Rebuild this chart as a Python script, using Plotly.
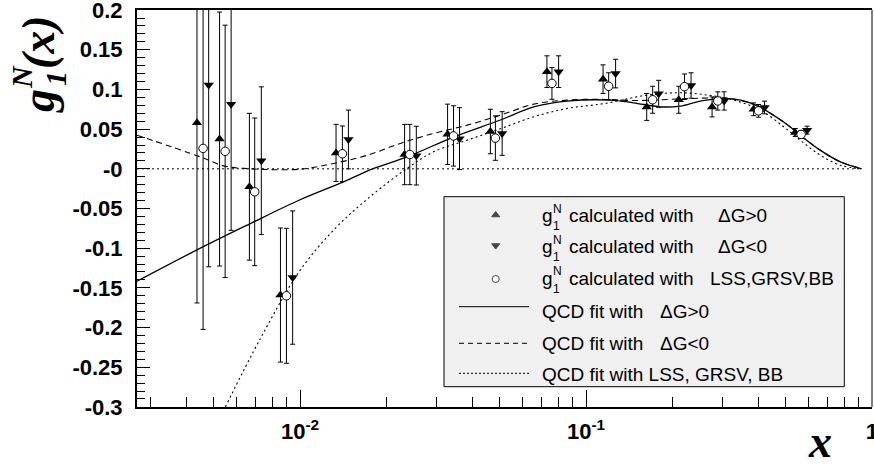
import numpy as np
import plotly.graph_objects as go

# ---------------- data ----------------
# g1^N calculated with DeltaG>0  (up triangles)
x_pos = [0.00436, 0.00523, 0.00665, 0.00854, 0.01336, 0.0232, 0.0328, 0.0463,
         0.073, 0.1147, 0.163, 0.211, 0.276, 0.3855, 0.539]
g1_pos = [0.058, 0.0375, -0.0226, -0.159, 0.020, 0.018, 0.0435, 0.047,
          0.1224, 0.113, 0.078, 0.087, 0.078, 0.075, 0.0458]
err_pos = [0.227, 0.160, 0.0925, 0.0845, 0.036, 0.038, 0.038, 0.028,
           0.020, 0.018, 0.017, 0.017, 0.0126, 0.008, 0.005]

# g1^N calculated with DeltaG<0  (down triangles)
x_neg = [0.00479, 0.00574, 0.00732, 0.00942, 0.01476, 0.0255, 0.0361, 0.0509,
         0.0802, 0.1269, 0.1795, 0.233, 0.304, 0.421, 0.593]
g1_neg = [0.1055, 0.0815, 0.0103, -0.137, 0.037, 0.0166, 0.038, 0.0445,
          0.1224, 0.120, 0.0945, 0.105, 0.0855, 0.0773, 0.0487]
err_neg = [0.229, 0.159, 0.093, 0.084, 0.037, 0.037, 0.039, 0.0275,
           0.020, 0.018, 0.017, 0.016, 0.0115, 0.008, 0.005]

# g1^N calculated with LSS, GRSV, BB  (open circles)
x_lss = [0.00458, 0.00547, 0.00694, 0.00896, 0.01406, 0.0242, 0.0344, 0.0482,
         0.076, 0.120, 0.171, 0.221, 0.289, 0.401, 0.565]
g1_lss = [0.0257, 0.022, -0.029, -0.160, 0.019, 0.018, 0.0414, 0.0387,
          0.1076, 0.104, 0.087, 0.1035, 0.0855, 0.073, 0.0433]
err_lss = [0.228, 0.159, 0.093, 0.085, 0.035, 0.038, 0.038, 0.028,
           0.020, 0.017, 0.017, 0.016, 0.0115, 0.008, 0.005]

# QCD fit with DeltaG>0 (solid)
x_fit_pos = [0.00269, 0.00448, 0.0067, 0.01, 0.0142, 0.0181, 0.02366, 0.0344,
             0.0502, 0.0656, 0.0858, 0.1216, 0.1466, 0.182, 0.2138, 0.251,
             0.311, 0.3855, 0.491, 0.5614, 0.659, 0.775, 0.92]
g1_fit_pos = [-0.1416, -0.100, -0.069, -0.039, -0.0164, 0.0005, 0.015, 0.040,
              0.0615, 0.078, 0.0853, 0.0866, 0.0832, 0.0781, 0.079, 0.0853,
              0.0887, 0.0815, 0.059, 0.0424, 0.0235, 0.0088, 0.0]

# QCD fit with DeltaG<0 (dashed)
x_fit_neg = [0.00269, 0.00448, 0.0054, 0.00635, 0.01, 0.0131, 0.01715, 0.0224,
             0.0293, 0.0384, 0.0502, 0.0656, 0.0858, 0.1168, 0.1487, 0.182,
             0.251, 0.311, 0.3855, 0.491, 0.5614, 0.659, 0.775, 0.92]
g1_fit_neg = [0.0424, 0.015, 0.0037, 0.0005, -0.0005, 0.0068, 0.017, 0.032,
              0.0446, 0.055, 0.0676, 0.0815, 0.0866, 0.0874, 0.086, 0.087,
              0.089, 0.089, 0.081, 0.059, 0.0424, 0.0235, 0.0088, 0.0]

# QCD fit with LSS, GRSV, BB (dotted)
x_fit_lss = [0.00548, 0.00726, 0.01, 0.01328, 0.0176, 0.02366, 0.0293, 0.0384,
             0.0502, 0.0656, 0.0858, 0.1168, 0.1634, 0.2138, 0.265, 0.328,
             0.4068, 0.491, 0.5614, 0.659, 0.775, 0.92]
g1_fit_lss = [-0.30, -0.214, -0.128, -0.075, -0.035, 0.0005, 0.0214, 0.0361,
              0.0505, 0.0655, 0.076, 0.0824, 0.0929, 0.0958, 0.093, 0.0866,
              0.074, 0.053, 0.0361, 0.0172, 0.0046, 0.0]

# zero reference line
x_zero = [0.00269, 0.92]
y_zero = [0.0, 0.0]

# axis ticks
x_range = [0.00269, 1.0]
y_range = [-0.3, 0.2]
x_major = [0.01, 0.1, 1.0]
x_major_text = ["<b>10<sup>-2</sup></b>", "<b>10<sup>-1</sup></b>", "<b>1</b>"]
x_minor = [0.003, 0.004, 0.005, 0.006, 0.007, 0.008, 0.009,
           0.02, 0.03, 0.04, 0.05, 0.06, 0.07, 0.08, 0.09,
           0.2, 0.3, 0.4, 0.5, 0.6, 0.7, 0.8, 0.9]
y_major = [0.2, 0.15, 0.1, 0.05, 0.0, -0.05, -0.1, -0.15, -0.2, -0.25, -0.3]
y_major_text = ["0.2", "0.15", "0.1", "0.05", "-0", "-0.05", "-0.1", "-0.15",
                "-0.2", "-0.25", "-0.3"]

# legend text
leg_points = ["calculated with", "calculated with", "calculated with"]
leg_point_tail = ["\u0394G>0", "\u0394G<0", "LSS,GRSV,BB"]
leg_fit_text = ["QCD fit with", "QCD fit with", "QCD fit with LSS, GRSV, BB"]
leg_fit_tail = ["\u0394G>0", "\u0394G<0", ""]

# ---------------- geometry helpers ----------------
W, H = 874, 466
ML, MR, MT, MB = 137, 2, 10, 59
PW, PH = W - ML - MR, H - MT - MB


def PX(px):
    return (px - ML) / PW


def PY(py):
    return (H - MB - py) / PH


SANS = "Liberation Sans"
SERIF = "Liberation Serif"
EPS = 1e-4

fig = go.Figure()

# fits
fig.add_trace(go.Scatter(x=x_zero, y=y_zero, mode="lines",
                         line=dict(color="black", width=1, dash="2px,3px")))
fig.add_trace(go.Scatter(x=x_fit_lss, y=g1_fit_lss, mode="lines", line_shape="spline",
                         line=dict(color="black", width=1.1, dash="2px,3px")))
fig.add_trace(go.Scatter(x=x_fit_neg, y=g1_fit_neg, mode="lines", line_shape="spline",
                         line=dict(color="black", width=1.1, dash="6px,4px")))
fig.add_trace(go.Scatter(x=x_fit_pos, y=g1_fit_pos, mode="lines", line_shape="spline",
                         line=dict(color="black", width=1.3)))

eb = dict(type="data", thickness=1, width=2.5, color="black")
fig.add_trace(go.Scatter(x=x_pos, y=g1_pos, mode="markers",
                         error_y=dict(array=err_pos, **eb),
                         marker=dict(symbol="triangle-up", size=9, color="black")))
fig.add_trace(go.Scatter(x=x_neg, y=g1_neg, mode="markers",
                         error_y=dict(array=err_neg, **eb),
                         marker=dict(symbol="triangle-down", size=9, color="black")))
fig.add_trace(go.Scatter(x=x_lss, y=g1_lss, mode="markers",
                         error_y=dict(array=err_lss, **eb),
                         marker=dict(symbol="circle", size=8.5, color="white",
                                     line=dict(color="black", width=1))))

# legend markers on a pixel-space overlay axis
fig.add_trace(go.Scatter(x=[495.7, 495.7, 495.7], y=[215, 245.5, 279],
                         xaxis="x2", yaxis="y2", mode="markers",
                         marker=dict(symbol=["triangle-up", "triangle-down", "circle"],
                                     size=[7, 7, 7],
                                     color=["black", "black", "white"],
                                     line=dict(color="black", width=1))))

shapes = []
# legend box
shapes.append(dict(type="rect", xref="paper", yref="paper",
                   x0=PX(444), x1=PX(844.3), y0=PY(386.7), y1=PY(196.7),
                   fillcolor="#f0f0f0", line=dict(color="black", width=1),
                   layer="below"))
# legend lines
for yy, dsh in [(306.7, "solid"), (343.3, "5px,4px"), (373.3, "2px,2px")]:
    shapes.append(dict(type="line", xref="paper", yref="paper",
                       x0=PX(459), x1=PX(529), y0=PY(yy), y1=PY(yy),
                       line=dict(color="black", width=1, dash=dsh)))
# right frame
shapes.append(dict(type="line", xref="paper", yref="paper", x0=1, x1=1, y0=0, y1=1,
                   line=dict(color="black", width=1)))

ann = []
lf = dict(family=SANS, size=19, color="black")
sup = dict(family=SANS, size=12, color="black")
rows_pts = [215.5, 246.5, 278]
for i, yy in enumerate(rows_pts):
    ann.append(dict(xref="paper", yref="paper", x=PX(540), y=PY(yy), text="g",
                    showarrow=False, xanchor="left", yanchor="middle", font=lf))
    ann.append(dict(xref="paper", yref="paper", x=PX(557), y=PY(yy - 7), text="N",
                    showarrow=False, xanchor="center", yanchor="middle", font=sup))
    ann.append(dict(xref="paper", yref="paper", x=PX(556), y=PY(yy + 10.5), text="1",
                    showarrow=False, xanchor="center", yanchor="middle", font=sup))
    ann.append(dict(xref="paper", yref="paper", x=PX(566.5), y=PY(yy), text=leg_points[i],
                    showarrow=False, xanchor="left", yanchor="middle", font=lf))
    tail_x = 708 if i == 2 else 715.5
    ann.append(dict(xref="paper", yref="paper", x=PX(tail_x), y=PY(yy), text=leg_point_tail[i],
                    showarrow=False, xanchor="left", yanchor="middle", font=lf))
rows_fit = [311, 343.5, 374]
for i, yy in enumerate(rows_fit):
    ann.append(dict(xref="paper", yref="paper", x=PX(540), y=PY(yy), text=leg_fit_text[i],
                    showarrow=False, xanchor="left", yanchor="middle", font=lf))
    if leg_fit_tail[i]:
        ann.append(dict(xref="paper", yref="paper", x=PX(658), y=PY(yy), text=leg_fit_tail[i],
                        showarrow=False, xanchor="left", yanchor="middle", font=lf))

# axis titles
tf = dict(family=SERIF, size=46, color="black")
sf = dict(family=SERIF, size=30, color="black")
ann.append(dict(xref="paper", yref="paper", x=PX(38.5), y=PY(101.5), text="<b><i>g</i></b>",
                textangle=-90, showarrow=False, xanchor="center", yanchor="middle", font=tf))
ann.append(dict(xref="paper", yref="paper", x=PX(38.5), y=PY(42.5), text="<b><i>(x)</i></b>",
                textangle=-90, showarrow=False, xanchor="center", yanchor="middle", font=tf))
ann.append(dict(xref="paper", yref="paper", x=PX(22), y=PY(77), text="<b><i>N</i></b>",
                textangle=-90, showarrow=False, xanchor="center", yanchor="middle", font=sf))
ann.append(dict(xref="paper", yref="paper", x=PX(55), y=PY(79), text="<b><i>1</i></b>",
                textangle=-90, showarrow=False, xanchor="center", yanchor="middle", font=sf))
ann.append(dict(xref="paper", yref="paper", x=PX(819.5), y=PY(441), text="<b><i>x</i></b>",
                showarrow=False, xanchor="center", yanchor="middle", font=tf))

fig.update_layout(
    width=W, height=H,
    margin=dict(l=ML, r=MR, t=MT, b=MB),
    paper_bgcolor="white", plot_bgcolor="white",
    showlegend=False,
    shapes=shapes, annotations=ann,
    xaxis=dict(type="log", range=[np.log10(x_range[0]), np.log10(x_range[1]) + EPS],
               showline=True, linecolor="black", linewidth=1.5, mirror=True,
               ticks="inside", ticklen=17, tickwidth=1, tickcolor="black",
               tickmode="array", tickvals=x_major, ticktext=x_major_text,
               tickfont=dict(family=SANS, size=22, color="black"),
               ticklabelstandoff=4, ticklabeloverflow="allow",
               showgrid=False, zeroline=False, automargin=False,
               minor=dict(tickmode="array", tickvals=x_minor, ticks="inside",
                          ticklen=10, tickwidth=1, tickcolor="black", showgrid=False)),
    yaxis=dict(range=[y_range[0] - EPS, y_range[1] + EPS], showline=True,
               linecolor="black", linewidth=2, mirror=False,
               ticks="inside", ticklen=13, tickwidth=1, tickcolor="black",
               tickmode="array", tickvals=y_major,
               ticktext=["<b>" + t + "</b>" for t in y_major_text],
               tickfont=dict(family=SANS, size=22, color="black"), ticklabelstandoff=8,
               ticklabeloverflow="allow",
               showgrid=False, zeroline=False, automargin=False,
               minor=dict(tickmode="linear", tick0=0, dtick=0.01, ticks="inside",
                          ticklen=7.5, tickwidth=1, tickcolor="black", showgrid=False)),
    xaxis2=dict(overlaying="x", range=[ML, W - MR], visible=False, fixedrange=True),
    yaxis2=dict(overlaying="y", range=[H - MB, MT], visible=False, fixedrange=True),
)

fig.write_html("out.html")
